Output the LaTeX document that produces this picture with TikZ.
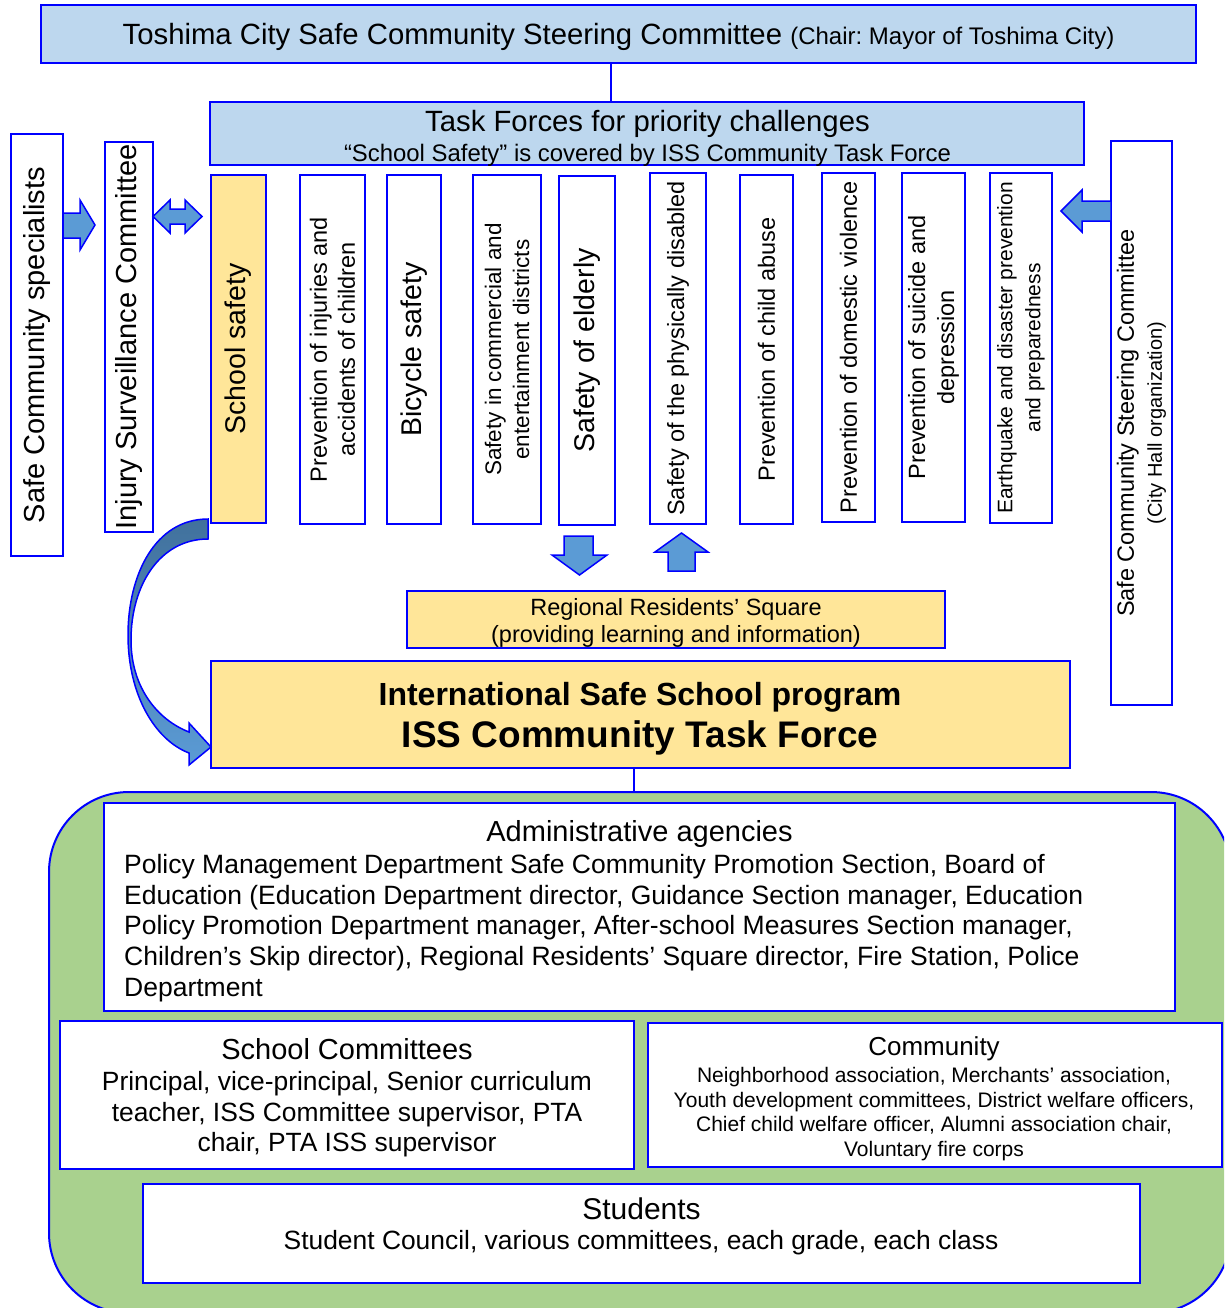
\documentclass[tikz,border=0pt]{standalone}
\usepackage{fontspec}
\setmainfont{Liberation Sans}
\usetikzlibrary{calc}
\frenchspacing
\definecolor{bl}{RGB}{0,0,255}
\definecolor{lb}{HTML}{BDD7EE}
\definecolor{yl}{HTML}{FFE699}
\definecolor{gr}{HTML}{A9D18E}
\definecolor{ab}{HTML}{5B9BD5}
\definecolor{abd}{HTML}{41719C}
\newcommand\fs[2]{\fontsize{#1}{#2}\selectfont}
\begin{document}
\begin{tikzpicture}[x=1pt,y=-1pt,
  box/.style={draw=bl, line width=2pt, inner sep=0pt, outer sep=0pt, align=center, text=black},
  vbox/.style={box, rotate=90},
  txt/.style={inner sep=0pt, align=center, text=black},
  blockarrow/.style={fill=ab, draw=bl, line width=1.5pt, line join=miter},
  conn/.style={draw=bl, line width=2.5pt}
]
\useasboundingbox (0,0) rectangle (1224,1308);
\fill[white] (0,0) rectangle (1224,1308);

% green background
\begin{scope}
\clip (0,0) rectangle (1224,1308);
\draw[fill=gr, draw=bl, line width=2pt, rounded corners=80pt] (49,792) rectangle (1231,1313);
\end{scope}

% top
\node[box, fill=lb, line width=2.5pt, minimum width=1155, minimum height=58] (top) at (618.5,34) {};
\node[txt] (toptxt) at (618.5,37)
  {{\fs{29.3}{30}Toshima City Safe Community Steering Committee }{\fs{24}{30}(Chair: Mayor of Toshima City)}};

% task forces
\node[box, fill=lb, minimum width=874, minimum height=63] (tf) at (647,133.5) {};
\node[txt, font=\fs{29.3}{30}] (tf1) at (647.5,124) {Task Forces for priority challenges};
\node[txt, font=\fs{23.9}{26}] (tf2) at (647.5,155) {“School Safety” is covered by ISS Community Task Force};

\draw[conn] ([xshift=-7.5pt]top.south) -- ([xshift=-7.5pt]top.south |- tf.north);

% vertical boxes
\node[vbox, fill=yl, minimum width=348, minimum height=55, font=\fs{28.5}{30}] (ss) at (238.5,349) {School safety};
\node[vbox, minimum width=349, minimum height=65, font=\fs{23.5}{28}] (inj) at (332.5,349.5) {Prevention of injuries and\\accidents of children};
\node[vbox, minimum width=349, minimum height=54, font=\fs{28.5}{30}] (bic) at (414,349.5) {Bicycle safety};
\node[vbox, minimum width=349, minimum height=68, font=\fs{22.5}{28}] (com) at (507,349.5) {Safety in commercial and\\entertainment districts};
\node[vbox, minimum width=349, minimum height=56, font=\fs{28.5}{30}] (eld) at (587,350.5) {Safety of elderly};
\node[vbox, minimum width=351, minimum height=56, font=\fs{23.5}{28}] (dis) at (678,348.5) {Safety of the physically disabled};
\node[vbox, minimum width=349, minimum height=53, font=\fs{23.5}{28}] (chi) at (766.5,349.5) {Prevention of child abuse};
\node[vbox, minimum width=349, minimum height=53, font=\fs{23.5}{28}] (dom) at (848.5,347.5) {Prevention of domestic violence};
\node[vbox, minimum width=349, minimum height=63, font=\fs{23.5}{29}] (sui) at (933.5,347.5) {Prevention of suicide and\\depression};
\node[vbox, minimum width=350, minimum height=62, font=\fs{21}{28}] (ear) at (1021,348) {Earthquake and disaster prevention\\and preparedness};

% left boxes
\node[vbox, minimum width=422, minimum height=52, font=\fs{29}{30}] (spec) at (37,345) {Safe Community specialists};
\node[vbox, minimum width=390, minimum height=48, font=\fs{29}{30}] (isc) at (129,337) {Injury Surveillance Committee};

% right box
\node[vbox, minimum width=564, minimum height=61, font=\fs{23.5}{28}] (scs) at (1141.5,423) {Safe Community Steering Committee\\{\fs{20}{28}(City Hall organization)}};

% block arrows
\draw[blockarrow] (spec.south |- 0,213) -- (80,213) -- (80,200) -- (95,225) -- (80,250) -- (80,238) -- (spec.south |- 0,238) -- cycle;
\draw[blockarrow] (isc.south |- 0,216.5) -- (170,200) -- (170,209) -- (185,209) -- (185,200) -- (202,216.5) -- (185,233) -- (185,224) -- (170,224) -- (170,233) -- cycle;
\draw[blockarrow] (scs.north |- 0,201) -- (1082,201) -- (1082,190) -- (1061,211) -- (1082,232) -- (1082,221) -- (scs.north |- 0,221) -- cycle;
\draw[blockarrow] (564,536) -- (593,536) -- (593,555) -- (607,555) -- (579.5,575) -- (552,555) -- (564,555) -- cycle;
\draw[blockarrow] (668,571) -- (668,552) -- (655,552) -- (681.5,533) -- (708,552) -- (695,552) -- (695,571) -- cycle;

% regional square
\node[box, fill=yl, minimum width=538, minimum height=57] (reg) at (676,619.5) {};
\node[txt, font=\fs{23.5}{27}] (regtxt) at (676,622.5) {Regional Residents’ Square\\(providing learning and information)};

% ISS
\node[box, fill=yl, minimum width=859, minimum height=107] (iss) at (640.5,714.5) {};
\node[txt, font=\fs{32}{34}\bfseries] (iss1) at (640,697) {International Safe School program};
\node[txt, font=\fs{37}{40}\bfseries] (iss2) at (640,738) {ISS Community Task Force};

% curved arrow
\coordinate (cstart) at (208,519);
\draw[top color=abd, bottom color=ab, draw=bl, line width=1.5pt, line join=miter]
  (cstart) .. controls (155,519) and (128,575) .. (128,635)
  .. controls (128,695) and (155,740) .. (189,753) -- (189,765) -- (iss.west |- 0,747) -- (189,723) -- (189,732)
  .. controls (158,720) and (131,688) .. (131,640)
  .. controls (131,585) and (160,539) .. (208,539) -- cycle;

\coordinate (gtop) at (634,792);
\draw[conn, line width=2pt] (iss.south -| gtop) -- (gtop);

% administrative
\node[box, fill=white, minimum width=1071, minimum height=208] (adm) at (639.5,907) {};
\node[txt, font=\fs{29}{30}] (adm1) at (639.5,834) {Administrative agencies};
\node[txt, anchor=west, align=left, font=\fs{26.5}{30.7}] (adm2) at (124,928) {Policy Management Department Safe Community Promotion Section, Board of\\Education (Education Department director, Guidance Section manager, Education\\Policy Promotion Department manager, After-school Measures Section manager,\\Children’s Skip director), Regional Residents’ Square director, Fire Station, Police\\Department};

% school committees
\node[box, fill=white, minimum width=574, minimum height=148] (sc) at (347,1095) {};
\node[txt, font=\fs{29}{30}] (sc1) at (347,1049) {School Committees};
\node[txt, font=\fs{26.4}{30.5}] (sc2) at (347,1114.5) {Principal, vice-principal, Senior curriculum\\teacher, ISS Committee supervisor, PTA\\chair, PTA ISS supervisor};

% community
\node[box, fill=white, minimum width=574, minimum height=144] (cm) at (935,1095) {};
\node[txt, font=\fs{26}{30}] (cm1) at (934,1049) {Community};
\node[txt, font=\fs{21}{24.7}] (cm2) at (934,1114) {Neighborhood association, Merchants’ association,\\Youth development committees, District welfare officers,\\Chief child welfare officer, Alumni association chair,\\Voluntary fire corps};

% students
\node[box, fill=white, minimum width=997, minimum height=99] (st) at (641.5,1233.5) {};
\node[txt, font=\fs{30}{32}] (st1) at (641.5,1209) {Students};
\node[txt, font=\fs{26.4}{30}] (st2) at (641,1243) {Student Council, various committees, each grade, each class};
\end{tikzpicture}
\end{document}
